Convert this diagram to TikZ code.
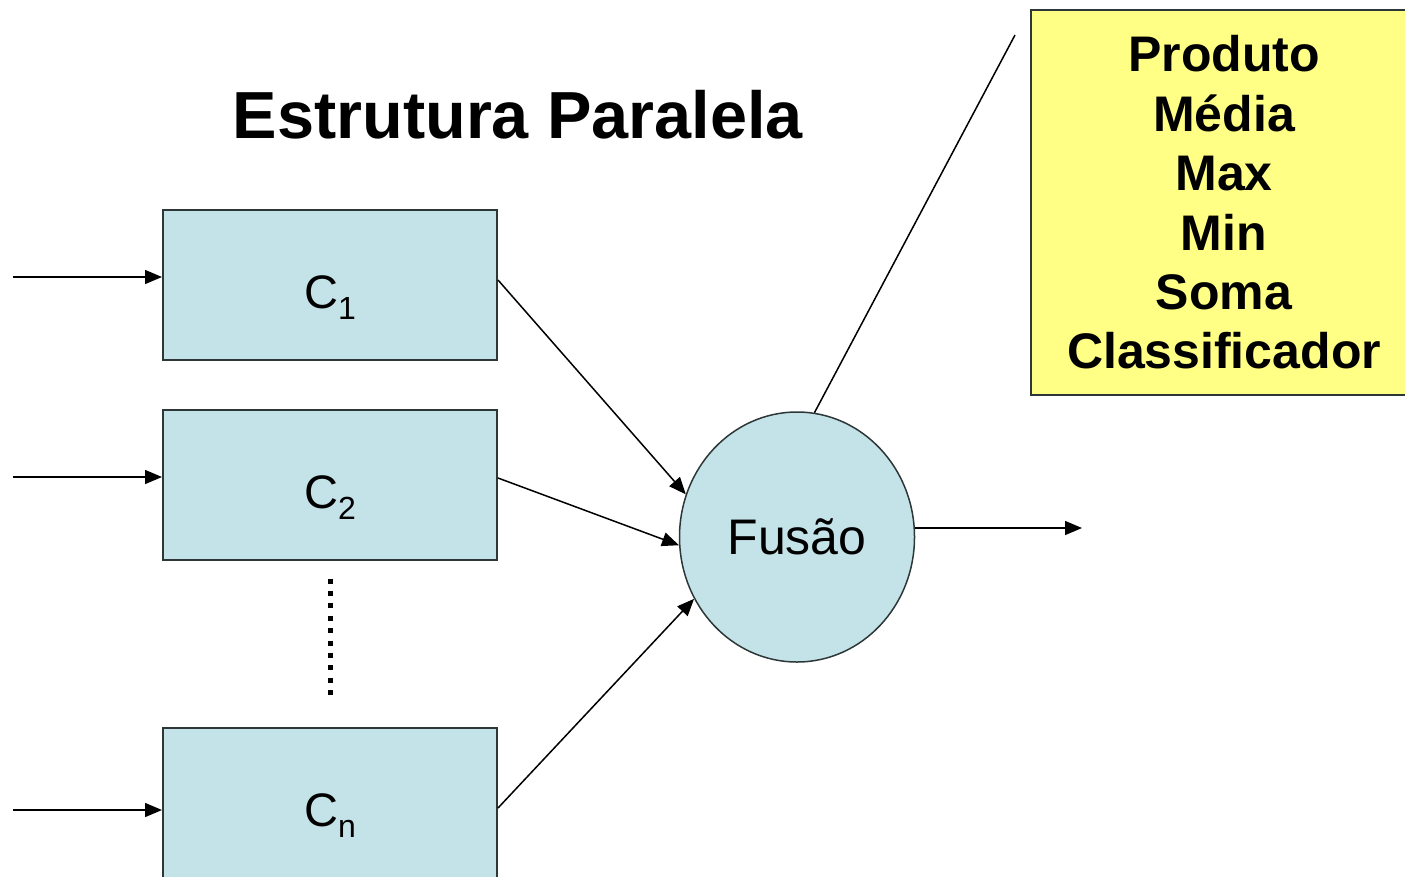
\documentclass[tikz,border=0pt]{standalone}
\usepackage{fontspec}
\setmainfont{Liberation Sans}
\usetikzlibrary{arrows.meta,shapes.geometric}
\definecolor{boxblue}{RGB}{196,227,232}
\definecolor{noteyellow}{RGB}{255,255,133}
\definecolor{edgecol}{RGB}{45,55,55}
\newcommand{\clabel}[1]{C\raisebox{-11pt}{\fontsize{32}{32}\selectfont #1}}
\begin{document}
\begin{tikzpicture}[x=1pt,y=-1pt,
  clsbox/.style={draw=edgecol,line width=2pt,fill=boxblue,minimum width=334pt,minimum height=150pt,inner sep=0pt,text height=46pt,text depth=0pt,font=\fontsize{47}{47}\selectfont},
  fus/.style={ellipse,draw=edgecol,line width=1.5pt,fill=boxblue,minimum width=235pt,minimum height=250pt,inner sep=0pt,font=\fontsize{50}{50}\selectfont},
  note/.style={draw=edgecol,line width=2pt,fill=noteyellow,minimum width=386pt,minimum height=385pt,inner sep=0pt,align=center,font=\fontsize{50}{59.4}\bfseries\selectfont},
  titletext/.style={font=\fontsize{66.6}{66.6}\bfseries\selectfont,inner sep=0pt},
  arr/.style={line width=1.5pt,-{Triangle[length=17pt,width=14pt]}},
  plainline/.style={line width=1.5pt},
  dotline/.style={line width=5pt,dash pattern=on 5pt off 7.4pt}
]
\useasboundingbox (0,0) rectangle (1405,876);
\begin{scope}
\clip (0,0) rectangle (1405,876);
\node[titletext] (title) at (518,115) {Estrutura Paralela};
\node[clsbox] (C1) at (330,285) {\clabel{1}};
\node[clsbox] (C2) at (330,485) {\clabel{2}};
\node[clsbox] (Cn) at (330,803) {\clabel{n}};
\node[fus] (F) at (797,537) {Fus\~ao};
\node[note] (N) at (1224,202.5) {Produto\\M\'edia\\Max\\Min\\Soma\\Classificador};

\coordinate (i1) at (13,277);
\coordinate (i2) at (13,477);
\coordinate (in) at (13,810);
\draw[arr] (i1) -- (i1 -| C1.west);
\draw[arr] (i2) -- (i2 -| C2.west);
\draw[arr] (in) -- (in -| Cn.west);

\coordinate (s1) at (0,280);
\coordinate (s2) at (0,478);
\coordinate (sn) at (0,808);
\draw[arr] (s1 -| C1.east) -- (F.159);
\draw[arr] (s2 -| C2.east) -- (F.184);
\draw[arr] (sn -| Cn.east) -- (F.211);

\coordinate (out) at (1082,528);
\draw[arr] (F.east |- out) -- (out);

\coordinate (tip) at (1015,35);
\draw[plainline] (F.82) -- (tip);

\coordinate (d1) at (330,578.5);
\coordinate (d2) at (330,695);
\draw[dotline] (d1) -- (d2);
\end{scope}
\end{tikzpicture}
\end{document}
